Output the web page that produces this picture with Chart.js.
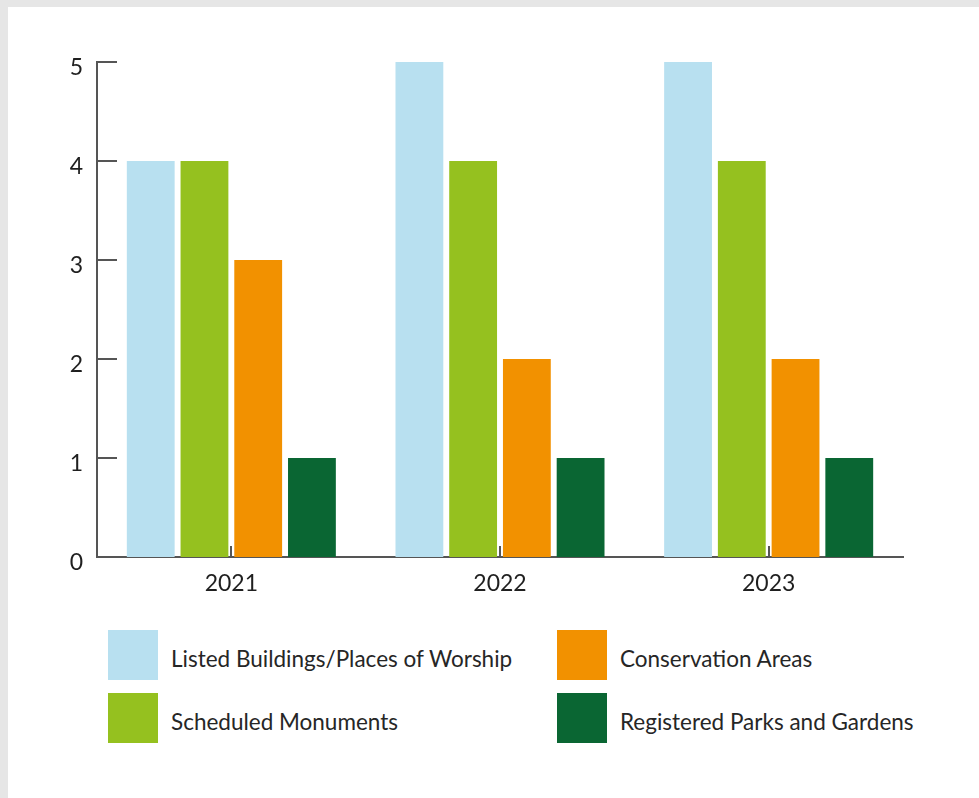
<!DOCTYPE html>
<html>
<head>
<meta charset="utf-8">
<script src="https://cdn.jsdelivr.net/npm/chart.js@4"></script>
<style>
  html, body { margin: 0; padding: 0; }
  body { background: #e6e6e6; width: 979px; height: 798px; position: relative; overflow: hidden; font-family: Lato, "Open Sans", sans-serif; }
  .panel { position: absolute; left: 8px; top: 7px; right: 0; bottom: 0; background: #fff; }
  #wrap { position: absolute; left: 0; top: 0; width: 979px; height: 620px; }
  #legend { position: absolute; left: 108px; top: 630px; display: grid; grid-template-columns: 449px auto; grid-auto-rows: 63px; }
  .item { display: flex; align-items: flex-start; }
  .item .box { width: 50px; height: 50px; flex: none; }
  .item .txt { margin-left: 13px; padding-top: 4px; height: 50px; line-height: 50px; font-size: 22.5px; color: #262626; white-space: nowrap; }
</style>
</head>
<body>
<div class="panel"></div>
<div id="wrap"><canvas id="chart"></canvas></div>
<div id="legend"></div>
<script>
const years = ['2021', '2022', '2023'];
const listedBuildings = [4, 5, 5];
const scheduledMonuments = [4, 4, 4];
const conservationAreas = [3, 2, 2];
const parksAndGardens = [1, 1, 1];

const axisColor = '#555555';

// short inward tick marks on both axes, drawn under the bars
const innerTicks = {
    id: 'innerTicks',
    beforeDatasetsDraw(chart) {
        const ctx = chart.ctx;
        const x = chart.scales.x;
        const y = chart.scales.y;
        ctx.save();
        ctx.strokeStyle = axisColor;
        ctx.lineWidth = 2;
        ctx.beginPath();
        y.ticks.forEach((t, i) => {
            const py = Math.round(y.getPixelForTick(i));
            ctx.moveTo(x.left, py);
            ctx.lineTo(x.left + 20, py);
        });
        x.ticks.forEach((t, i) => {
            const px = Math.round(x.getPixelForTick(i));
            ctx.moveTo(px, y.bottom);
            ctx.lineTo(px, y.bottom - 11);
        });
        ctx.stroke();
        ctx.restore();
    }
};

const chart = new Chart(document.getElementById('chart'), {
    type: 'bar',
    data: {
        labels: years,
        datasets: [
            { label: 'Listed Buildings/Places of Worship', data: listedBuildings, backgroundColor: '#b8e0f0' },
            { label: 'Scheduled Monuments', data: scheduledMonuments, backgroundColor: '#95c11f' },
            { label: 'Conservation Areas', data: conservationAreas, backgroundColor: '#f29100' },
            { label: 'Registered Parks and Gardens', data: parksAndGardens, backgroundColor: '#0a6633' }
        ]
    },
    options: {
        responsive: true,
        maintainAspectRatio: false,
        animation: false,
        categoryPercentage: 0.8,
        barPercentage: 0.89,
        layout: { padding: { top: 62, right: 76, left: 0, bottom: 0 } },
        plugins: {
            legend: { display: false },
            tooltip: { enabled: false }
        },
        scales: {
            x: {
                grid: { display: false, drawTicks: false },
                border: { display: true, color: axisColor, width: 2 },
                ticks: { color: '#1f1f1f', font: { family: 'Lato', size: 23 }, padding: 13 },
                afterFit(scale) { scale.height = 63; }
            },
            y: {
                min: 0,
                max: 5,
                grid: { display: false, drawTicks: false },
                border: { display: true, color: axisColor, width: 2 },
                ticks: { stepSize: 1, color: '#1f1f1f', font: { family: 'Lato', size: 23 }, padding: 14, labelOffset: 6 },
                afterFit(scale) { scale.width = 97; }
            }
        }
    },
    plugins: [innerTicks]
});

// two-column legend built from the datasets
const legend = document.getElementById('legend');
const order = [0, 2, 1, 3];
order.forEach(i => {
    const ds = chart.data.datasets[i];
    const item = document.createElement('div');
    item.className = 'item';
    const box = document.createElement('div');
    box.className = 'box';
    box.style.background = ds.backgroundColor;
    const txt = document.createElement('div');
    txt.className = 'txt';
    txt.textContent = ds.label;
    item.appendChild(box);
    item.appendChild(txt);
    legend.appendChild(item);
});
</script>
</body>
</html>
